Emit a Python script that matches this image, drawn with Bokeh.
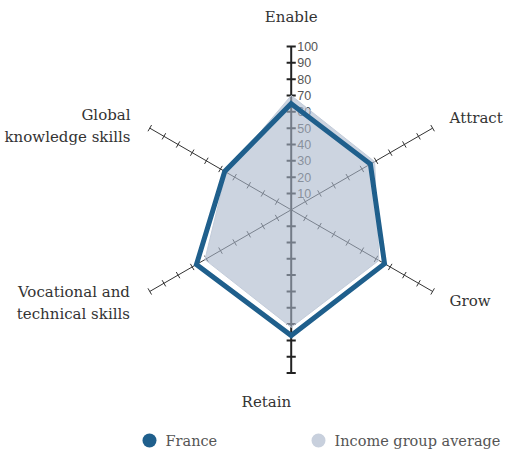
import numpy as np
from bokeh.plotting import figure
from bokeh.models import Range1d
from bokeh.embed import file_html
from bokeh.resources import INLINE
from bokeh.core.properties import value

# ---- data ----
categories = ["Enable", "Attract", "Grow", "Retain",
              "Vocational and\ntechnical skills", "Global\nknowledge skills"]
france = [65, 56, 66, 77, 67, 47]
income_avg = [70, 59, 62, 72, 61, 46]
tick_values = [10, 20, 30, 40, 50, 60, 70, 80, 90, 100]
tick_labels = [str(v) for v in tick_values]
series_names = ["France", "Income group average"]

# ---- layout ----
W, H = 506, 452
CX, CY = 290.7, 209.3             # centre in px
S = 1.633                         # px per unit
angles = np.deg2rad([90, 30, -30, -90, -150, 150])
RMAX = 100

def px_to_data(px, py):
    return (px - CX) / S, (CY - py) / S

p = figure(width=W, height=H,
           x_range=Range1d(-CX / S, (W - CX) / S),
           y_range=Range1d(-(H - CY) / S, CY / S),
           output_backend="svg", toolbar_location=None, min_border=0,
           x_axis_location=None, y_axis_location=None)
p.grid.visible = False
p.outline_line_color = None
p.background_fill_color = "white"
p.border_fill_color = "white"

# axes (diagonals thin, vertical thick)
for i, a in enumerate(angles):
    ca, sa = np.cos(a), np.sin(a)
    vertical = abs(ca) < 1e-6
    lw = 2 if vertical else 1
    col = "#222222" if vertical else "#333333"
    h = 2.8 if vertical else 2.2
    p.segment(x0=[0], y0=[0], x1=[RMAX * ca], y1=[RMAX * sa], line_color=col, line_width=lw)
    tv = np.array(tick_values, dtype=float)
    px_, py_ = -sa, ca
    p.segment(x0=tv * ca - h * px_, y0=tv * sa - h * py_,
              x1=tv * ca + h * px_, y1=tv * sa + h * py_,
              line_color=col, line_width=lw)

# tick labels on Enable axis
p.text(x=[0] * len(tick_values), y=tick_values, text=tick_labels,
       x_offset=6, text_align="left", text_baseline="middle",
       text_font=value("Liberation Sans"), text_font_size="12.5px", text_color="#555555")

# income group average (filled)
avg = np.array(income_avg, dtype=float)
p.patch(x=avg * np.cos(angles), y=avg * np.sin(angles),
        fill_color="#aab7cb", fill_alpha=0.6, line_color="#c3ccda", line_width=1)

# France line
fr = np.array(france, dtype=float)
p.patch(x=fr * np.cos(angles), y=fr * np.sin(angles),
        fill_color=None, line_color="#1f5f8c", line_width=5, line_join="miter")

# category labels
lab_r = [118, 112, 112, 117.7, 114, 113.6]
lab_align = ["center", "left", "left", "right", "right", "right"]
lab_yoff = [0, 0, 0, 0, 0, 9]
for i, a in enumerate(angles):
    p.text(x=[lab_r[i] * np.cos(a)], y=[lab_r[i] * np.sin(a)], text=[categories[i]],
           text_align=lab_align[i], text_baseline="middle", y_offset=lab_yoff[i],
           text_font=value("DejaVu Serif"), text_font_size="15px",
           text_color="#333333", text_line_height=1.2)

# legend
leg_colors = ["#1f5f8c", "#c8d0dd"]
leg_px = [149, 318]
leg_py = 440
for i, name in enumerate(series_names):
    lx, ly = px_to_data(leg_px[i], leg_py)
    p.scatter(x=[lx], y=[ly], size=14, marker="circle", fill_color=leg_colors[i], line_color=None)
    p.text(x=[lx], y=[ly], text=[name], x_offset=16, text_align="left", text_baseline="middle",
           text_font=value("DejaVu Serif"), text_font_size="14.5px", text_color="#555555")

open("out.html", "w").write(file_html(p, INLINE))
